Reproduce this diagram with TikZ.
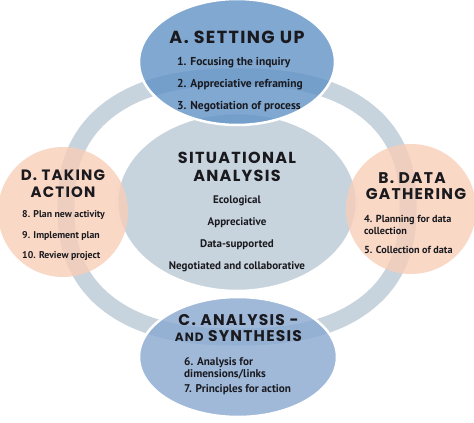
\documentclass[tikz,border=0pt]{standalone}
\usepackage{fontspec}
\newfontfamily\headfont{Poppins}[LetterSpace=8]
\newfontfamily\itemfont{PT Sans}
\usetikzlibrary{shapes.geometric}
\definecolor{ringgray}{RGB}{200,212,221}
\definecolor{setupblue}{RGB}{96,146,198}
\definecolor{synthblue}{RGB}{136,168,208}
\definecolor{peach}{RGB}{248,206,184}
\definecolor{inktext}{RGB}{25,25,30}
\begin{document}
\begin{tikzpicture}[x=1pt, y=-1pt,
		blob/.style={ellipse, draw=white, line width=2.5pt, inner sep=0pt},
		disc/.style={circle, fill=peach, fill opacity=0.8, inner sep=0pt, minimum size=130pt},
		head/.style={font=\headfont\bfseries\fontsize{#1}{#1}\selectfont, text=inktext, anchor=base, inner sep=0pt},
		head/.default=16,
		item/.style={font=\itemfont\bfseries\fontsize{#1}{12}\selectfont, text=inktext, anchor=base west, inner sep=0pt},
		item/.default=10,
		mid/.style={item=11, anchor=base}]
	\useasboundingbox (0,0) rectangle (474,423);
	% ring behind the five shapes
	\draw[ringgray, line width=17pt] plot[domain=1:358, samples=120, smooth cycle]
		({237+171*sign(cos(\x))*abs(cos(\x))^0.833}, {207+130*sign(sin(\x))*abs(sin(\x))^0.833});
	
	\node[blob, fill=ringgray, minimum width=240pt, minimum height=178pt] (core) at (237,202) {};
	\node[disc] (taking) at (63,212) {};
	\node[disc] (gathering) at (411,209) {};
	\node[blob, fill=setupblue, fill opacity=0.8, minimum width=196pt, minimum height=126pt] (setup) at (237,62) {};
	\node[blob, fill=synthblue, fill opacity=0.8, minimum width=198pt, minimum height=120pt] (synth) at (238,357) {};
	
	% A
	\node[head=17.5] (setuphead) at (237,43) {A. SETTING UP};
	\foreach \t [count=\i] in {1. Focusing the inquiry, 2. Appreciative reframing, 3. Negotiation of process} {
		\node[item=11.5] (setup\i) at (177,43+22*\i) {\t};
	};
	% centre
	\node[head] (corehead1) at (237,163) {SITUATIONAL};
	\node[head] (corehead2) at (237,181) {ANALYSIS};
	\foreach \t [count=\i] in {Ecological, Appreciative, Data-supported, Negotiated and collaborative} {
		\node[mid] (core\i) at (237,181+22*\i) {\t};
	};
	% D
	\node[head=15] (takinghead1) at (63,180) {D. TAKING};
	\node[head=15] (takinghead2) at (63,197) {ACTION};
	\foreach \t [count=\i] in {8. Plan new activity, 9. Implement plan, 10. Review project} {
		\node[item=9.8] (taking\i) at (22,197+20.5*\i) {\t};
	};
	% B
	\node[head=15.5] (gatheringhead1) at (412,183) {B. DATA};
	\node[head=15.5] (gatheringhead2) at (416,199) {GATHERING};
	\node[item=10.2] (gathering1) at (364,222) {4. Planning for data};
	\node[item=10.2] (gathering2) at (364,234) {collection};
	\node[item=10.2] (gathering3) at (364,253) {5. Collection of data};
	% C
	\node[head=15.5] (synthhead1) at (238.5,325) {C. ANALYSIS -};
	\node[head=15.5] (synthhead2) at (238.5,341) {{\fontsize{12}{12}\selectfont AND} SYNTHESIS};
	\node[item=11.2] (synth1) at (184,365) {6. Analysis for};
	\node[item=11.2] (synth2) at (184,377) {dimensions/links};
	\node[item=11.2] (synth3) at (184,392) {7. Principles for action};
\end{tikzpicture}
\end{document}
